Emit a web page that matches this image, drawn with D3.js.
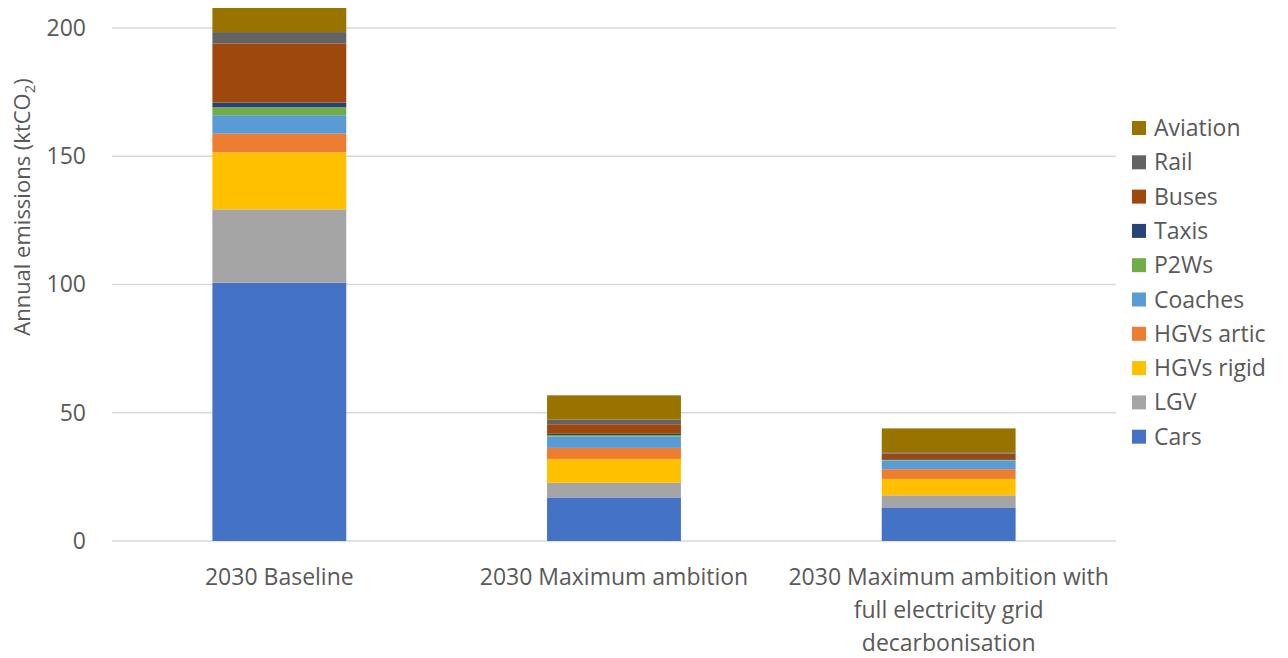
<!DOCTYPE html>
<html>
<head>
<meta charset="utf-8">
<script src="https://cdn.jsdelivr.net/npm/d3@7"></script>
<style>
  html, body { margin: 0; padding: 0; background: #fff; }
  svg { display: block; font-family: "Open Sans", "Liberation Sans", sans-serif; }
</style>
</head>
<body>
<svg id="chart" width="1288" height="658"></svg>
<script>
// Scenario categories (x axis), drawn as multi-line labels
const scenarios = [
  ["2030 Baseline"],
  ["2030 Maximum ambition"],
  ["2030 Maximum ambition with", "full electricity grid", "decarbonisation"]
];

// Transport modes, stacked bottom to top
const modes = ["Cars", "LGV", "HGVs rigid", "HGVs artic", "Coaches", "P2Ws", "Taxis", "Buses", "Rail", "Aviation"];
const modeColors = ["#4472C4", "#A5A5A5", "#FFC000", "#ED7D31", "#5B9BD5", "#70AD47", "#264478", "#9E480E", "#636363", "#997300"];

// Annual emissions (ktCO2) per mode, one value per scenario
const cars      = [100.7, 17.0, 13.1];
const lgv       = [28.6, 5.7, 4.7];
const hgvRigid  = [22.2, 9.3, 6.4];
const hgvArtic  = [7.3, 4.3, 3.8];
const coaches   = [7.2, 4.4, 3.4];
const p2ws      = [3.1, 0.6, 0.2];
const taxis     = [1.8, 0.5, 0.3];
const buses     = [23.1, 3.7, 2.2];
const rail      = [4.4, 1.8, 0.5];
const aviation  = [9.4, 9.5, 9.3];

const yTicks = [0, 50, 100, 150, 200];

const seriesValues = [cars, lgv, hgvRigid, hgvArtic, coaches, p2ws, taxis, buses, rail, aviation];

const table = scenarios.map((s, i) => {
  const row = { key: i };
  modes.forEach((m, j) => { row[m] = seriesValues[j][i]; });
  return row;
});

const svg = d3.select("#chart");
const plot = { left: 112, right: 1116, top: 28, bottom: 541 };
const fontSize = "23px";

const x = d3.scaleBand()
  .domain(scenarios.map((s, i) => i))
  .range([plot.left, plot.right])
  .paddingInner(0.6)
  .paddingOuter(0.3);

const y = d3.scaleLinear().domain([0, 200]).range([plot.bottom, plot.top]);

const textColor = "#595959";

// Horizontal gridlines
svg.append("g")
  .selectAll("line")
  .data(yTicks)
  .join("line")
  .attr("x1", plot.left).attr("x2", plot.right)
  .attr("y1", d => y(d)).attr("y2", d => y(d))
  .attr("stroke", "#d9d9d9")
  .attr("stroke-width", 1.5);

// Y axis tick labels
const yAxis = d3.axisLeft(y).tickValues(yTicks).tickSize(0).tickPadding(0);
const yg = svg.append("g")
  .attr("transform", `translate(${plot.left - 26},0)`)
  .call(yAxis);
yg.select(".domain").remove();
yg.selectAll("text")
  .attr("fill", textColor)
  .style("font-size", fontSize)
  .style("font-family", "'Open Sans', sans-serif");

// Stacked bars
const stack = d3.stack().keys(modes);
const layers = stack(table);

svg.append("g")
  .selectAll("g")
  .data(layers)
  .join("g")
  .attr("fill", (d, i) => modeColors[i])
  .selectAll("rect")
  .data(d => d)
  .join("rect")
  .attr("x", d => x(d.data.key))
  .attr("width", x.bandwidth())
  .attr("y", d => y(d[1]))
  .attr("height", d => y(d[0]) - y(d[1]));

// X axis category labels
const xg = svg.append("g");
scenarios.forEach((lines, i) => {
  const t = xg.append("text")
    .attr("x", x(i) + x.bandwidth() / 2)
    .attr("y", 585)
    .attr("text-anchor", "middle")
    .attr("fill", textColor)
    .style("font-size", fontSize);
  lines.forEach((ln, k) => {
    t.append("tspan")
      .attr("x", x(i) + x.bandwidth() / 2)
      .attr("dy", k === 0 ? 0 : 33)
      .text(ln);
  });
});

// Y axis title with subscript
const title = svg.append("text")
  .attr("transform", "translate(30,207) rotate(-90)")
  .attr("text-anchor", "middle")
  .attr("fill", textColor)
  .style("font-size", "22px");
title.append("tspan").text("Annual emissions (ktCO");
title.append("tspan").attr("font-size", "15px").attr("dy", 5).text("2");
title.append("tspan").attr("dy", -5).text(")");

// Legend, top entry is the top of the stack
const legendItems = modes.map((m, i) => ({ name: m, color: modeColors[i] })).reverse();
const legend = svg.append("g").attr("transform", "translate(1132,121)");
const li = legend.selectAll("g")
  .data(legendItems)
  .join("g")
  .attr("transform", (d, i) => `translate(0,${i * 34.3})`);
li.append("rect")
  .attr("width", 14).attr("height", 14)
  .attr("fill", d => d.color);
li.append("text")
  .attr("x", 22).attr("y", 7)
  .attr("dy", "0.35em")
  .attr("fill", textColor)
  .style("font-size", fontSize)
  .text(d => d.name);
</script>
</body>
</html>
